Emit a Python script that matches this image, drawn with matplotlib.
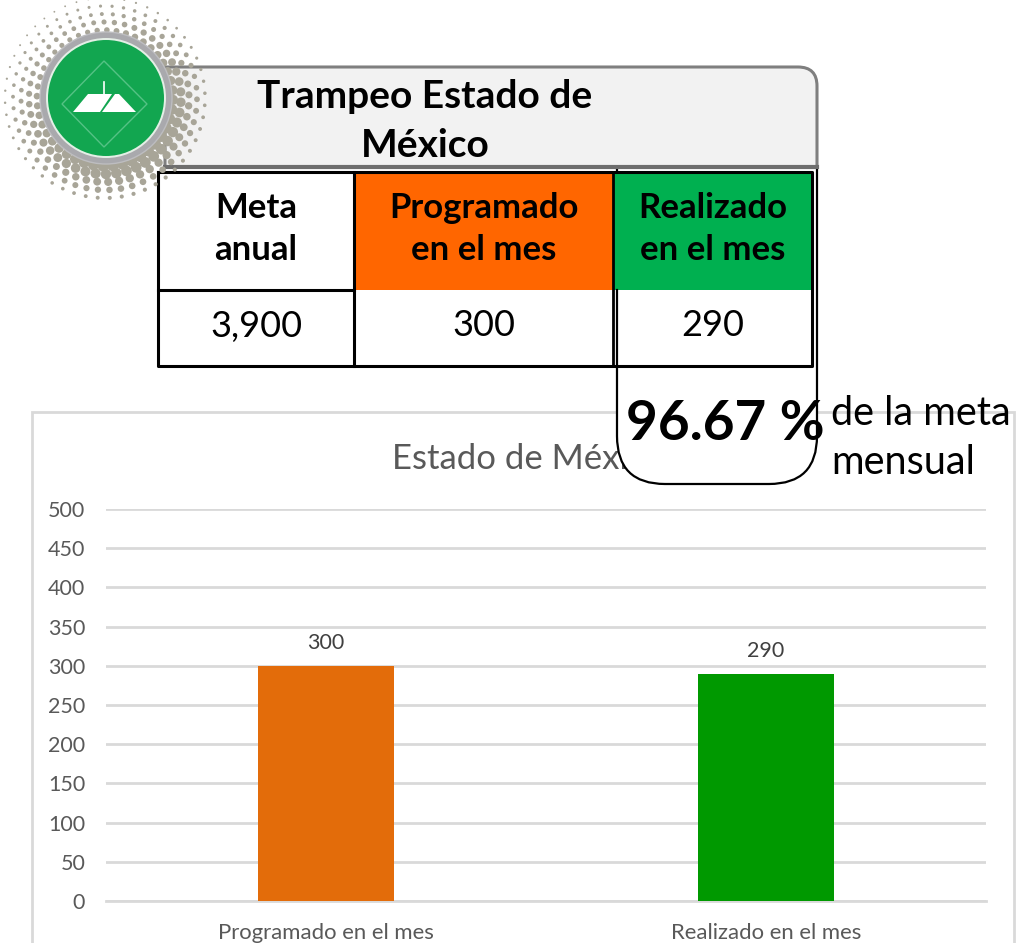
import numpy as np
import matplotlib
matplotlib.use('Agg')
import matplotlib.pyplot as plt
from matplotlib.patches import Rectangle, Circle, PathPatch, Polygon
from matplotlib.path import Path

plt.rcParams['font.family'] = ['Lato', 'DejaVu Sans']

categories = ['Programado en el mes', 'Realizado en el mes']
values = [300, 290]
bar_colors = ['#E36C0A', '#009900']
y_ticks = [0, 50, 100, 150, 200, 250, 300, 350, 400, 450, 500]

header_text = 'Trampeo Estado de\nMéxico'
col_titles = ['Meta\nanual', 'Programado\nen el mes', 'Realizado\nen el mes']
col_values = ['3,900', '300', '290']
percent_text = '96.67 %'
note_text = 'de la meta\nmensual'

W, H = 1019, 943
fig = plt.figure(figsize=(W / 100, H / 100), dpi=100)


def pixel_axes(z):
    a = fig.add_axes([0, 0, 1, 1], zorder=z)
    a.set_xlim(0, W)
    a.set_ylim(H, 0)
    a.axis('off')
    a.patch.set_alpha(0)
    return a


# chart frame
back = pixel_axes(0)
back.add_patch(Rectangle((32, 412), 982, 560, fc='white', ec='#D9D9D9', lw=2))

# bar chart
ax = fig.add_axes([106 / W, 1 - 901 / H, 880 / W, 392 / H], zorder=1)
ax.patch.set_alpha(0)
ax.bar([0, 1], values, width=0.311, color=bar_colors, zorder=3)
ax.set_xlim(-0.5, 1.5)
ax.set_ylim(0, 500)
ax.set_yticks(y_ticks)
ax.set_xticks([0, 1])
ax.set_xticklabels(categories)
ax.grid(axis='y', color='#D9D9D9', lw=2)
ax.set_axisbelow(True)
ax.tick_params(length=0, labelsize=15.5, labelcolor='#595959')
ax.tick_params(axis='y', pad=15)
ax.tick_params(axis='x', pad=16, labelsize=15.9)
for s in ax.spines.values():
    s.set_visible(False)
ax.axhline(0, color='#D9D9D9', lw=2, clip_on=False, zorder=2)
for i, v in enumerate(values):
    ax.annotate(str(v), (i, v), xytext=(0, 13), textcoords='offset pixels',
                ha='center', va='bottom', fontsize=15.5, color='#404040')
fig.text(528 / W, 1 - 459 / H, 'Estado de México', ha='center', va='center',
         fontsize=25, color='#595959', zorder=1)

top = pixel_axes(2)

# header box with rounded top right corner
hdr = Path([(165, 167), (165, 67), (798, 67), (817, 67), (817, 86), (817, 167), (165, 167)],
           [Path.MOVETO, Path.LINETO, Path.LINETO, Path.CURVE3, Path.CURVE3, Path.LINETO, Path.LINETO])
top.add_patch(PathPatch(hdr, fc='#F2F2F2', ec='#7F7F7F', lw=2.2))
top.plot([165, 817], [167, 167], color='#6E6E6E', lw=3)
top.text(425, 121, header_text, ha='center', va='center', fontsize=28,
         fontweight='bold', linespacing=1.45, color='black')

# callout behind the table
call = Path([(617, 167), (617, 436), (617, 484), (665, 484), (769, 484), (817, 484), (817, 436), (817, 167)],
            [Path.MOVETO, Path.LINETO, Path.CURVE3, Path.CURVE3, Path.LINETO, Path.CURVE3, Path.CURVE3, Path.LINETO])
top.add_patch(PathPatch(call, fc='white', ec='none'))
top.add_patch(PathPatch(call, fc='none', ec='black', lw=1.6))

# table
xs = [158, 354, 614, 812]
top.add_patch(Rectangle((158, 172), 654, 194, fc='white', ec='none'))
top.add_patch(Rectangle((354, 172), 260, 118, fc='#FF6600', ec='none'))
top.add_patch(Rectangle((614, 172), 198, 118, fc='#00B050', ec='none'))
top.plot([158, 812, 812, 158, 158], [172, 172, 366, 366, 172], color='black', lw=2.2)
top.plot([158, 354], [290, 290], color='black', lw=2.2)
top.plot([354, 354], [172, 366], color='black', lw=2.2)
top.plot([613, 613], [172, 366], color='black', lw=2)
top.plot([617, 617], [290, 366], color='black', lw=1.6)
for i in range(3):
    cx = (xs[i] + xs[i + 1]) / 2
    top.text(cx, 229, col_titles[i], ha='center', va='center', fontsize=25,
             fontweight='bold', linespacing=1.4, color='black')
    top.text(cx, 326, col_values[i], ha='center', va='center', fontsize=26, color='black')

top.text(725, 424, percent_text, ha='center', va='center', fontsize=39.5,
         fontweight='bold', color='black')
top.text(831, 438, note_text, ha='left', va='center', fontsize=28.5,
         linespacing=1.42, color='black')

# logo: halftone dots
for r, size, n in [(68, 7, 44), (76, 6.5, 46), (84, 5, 48), (92, 4, 50), (100, 2.5, 52)]:
    ang = np.linspace(0, 2 * np.pi, n, endpoint=False) + r
    fade = 0.55 + 0.45 * np.cos(ang - np.pi / 3)
    px = 105 + r * np.cos(ang)
    py = 98 + r * np.sin(ang)
    top.scatter(px, py, s=(size * (0.45 + 0.75 * fade)) ** 2, color='#A8A598', lw=0, zorder=5)
top.add_patch(Circle((106, 98), 66, fc='#A9A9AD', ec='#BDBDC0', lw=1, zorder=6))
top.add_patch(Circle((106, 98), 60, fc='#E4EFE6', ec='none', zorder=6))
top.add_patch(Circle((106, 98), 58, fc='#12A650', ec='none', zorder=6))
top.add_patch(Polygon([(104, 61), (147, 104), (104, 147), (62, 104)], closed=True,
                      fc='none', ec='#55C285', lw=1, zorder=7))
top.add_patch(Polygon([(73, 112), (88, 94), (112, 94), (100, 112)], closed=True,
                      fc='white', ec='none', zorder=7))
top.add_patch(Polygon([(102, 112), (115, 94), (119, 94), (136, 112)], closed=True,
                      fc='white', ec='none', zorder=7))
top.plot([104, 104], [82, 95], color='white', lw=1.2, zorder=7)

fig.savefig('out.png', dpi=100)
